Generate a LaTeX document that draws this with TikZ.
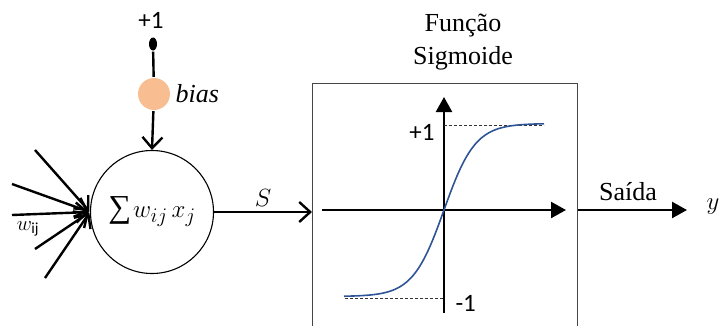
\documentclass[tikz,border=0pt]{standalone}
\usepackage{amsmath}
\usepackage{fontspec}
\setmainfont{Liberation Serif}
\setsansfont{Carlito}
\usepackage{tikz}
\usetikzlibrary{arrows.meta,positioning,shapes.geometric}
\definecolor{biasc}{RGB}{248,190,146}
\definecolor{sigc}{RGB}{46,84,150}
\definecolor{boxc}{RGB}{70,70,70}

\begin{document}
\begin{tikzpicture}[x=1pt,y=-1pt,line width=2.4pt,
  barb/.style={-{Straight Barb[length=11pt,width=20pt,line width=2.4pt]}},
  solidtip/.style={-{Triangle[length=15pt,width=16pt]}},
  lbl/.style={font=\fontsize{26}{33}\selectfont},
  num/.style={font=\sffamily\fontsize{25}{28}\selectfont},
  guide/.style={line width=0.7pt,densely dashed,black!80}]
\clip (0,0) rectangle (721,325);
% neuron: weighted sum with bias input on top
\node[draw,circle,line width=1.1pt,minimum size=123pt,inner sep=0pt] (sum) at (152,212)
  {\fontsize{32}{36}\selectfont ∑\kern2pt$w_{ij}\,x_j$};
\node[circle,fill=biasc,minimum size=32pt,inner sep=0pt] (bias) at (154,94) {};
\node[right=0pt of bias,font=\itshape\fontsize{26}{30}\selectfont] (biastxt) {bias};
\node[ellipse,fill=black,minimum width=8pt,minimum height=13pt,inner sep=0pt] (one) at (153,44) {};
\node[num] (onetxt) at (151,20) {+1};
\draw (one) -- (bias);
\draw[barb] (bias) -- (sum.north);
% inputs
\coordinate (in1) at (35,150);
\coordinate (in2) at (12,184);
\coordinate (in3) at (12,215);
\coordinate (in4) at (35,249);
\coordinate (in5) at (45,278);
\foreach \i in {1,...,5}
  \draw[barb,shorten >=1pt] (in\i) -- (sum.west);
\node[font=\fontsize{22}{24}\selectfont] (wlbl) at (28,229) {$w_{\text{\sffamily ij}}$};
% activation block
\node[draw=boxc,line width=1.4pt,minimum width=265pt,minimum height=262pt,anchor=north west,inner sep=0pt] (sig) at (312,83) {};
\node[lbl,align=center] (sigtxt) at (463,42) {Função\\Sigmoide};
\draw[barb] (sum.east) -- (sum.east -| sig.west) node[midway,above=1pt,font=\itshape\fontsize{26}{30}\selectfont] (stxt) {$S$};
% axes and sigmoid curve
\coordinate (o) at (444,210);
\coordinate (xl) at (322,210);
\coordinate (xr) at (566,210);
\coordinate (yb) at (444,313);
\coordinate (yt) at (444,97);
\draw[solidtip] (xl) -- (xr);
\draw[solidtip] (yb) -- (yt);
\draw[guide] (444,125) -- (544,125);
\draw[guide] (345,298) -- (444,298);
\draw[sigc,line width=1.6pt] plot[domain=-100:100,samples=100] ({444+\x},{210-86.5*tanh(0.032*\x)});
\node[num,anchor=east] (ptxt) at (439,132) {+1};
\node[num,anchor=west] (mtxt) at (451,303) {-1};
% output
\coordinate (out) at (687,210);
\draw[solidtip] (sig.east |- o) -- (out);
\node[lbl] (outtxt) at (628,192) {Saída};
\node[font=\itshape\fontsize{28}{30}\selectfont] (ytxt) at (713,207) {$y$};
\end{tikzpicture}
\end{document}
